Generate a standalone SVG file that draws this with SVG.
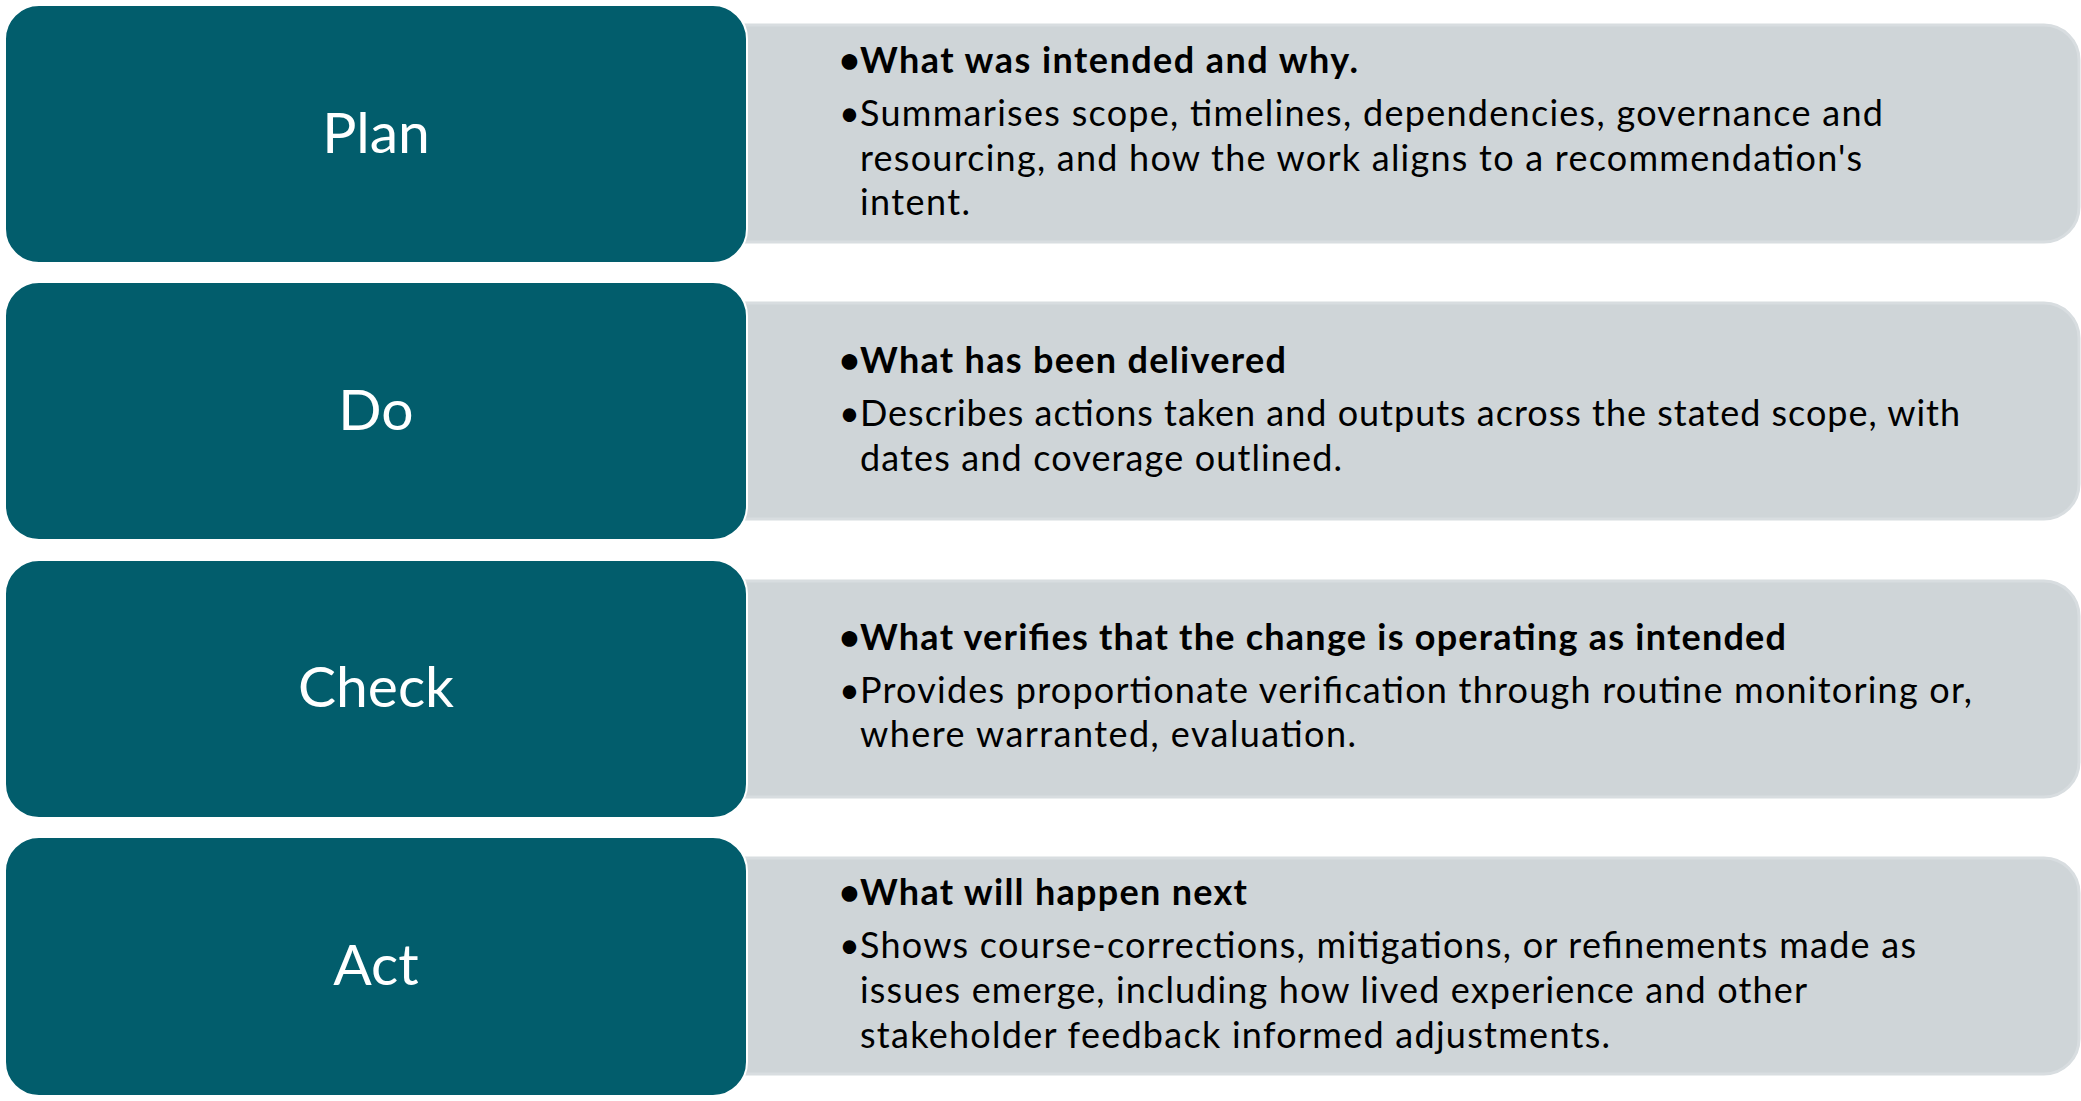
<svg xmlns="http://www.w3.org/2000/svg" width="2081" height="1101" viewBox="0 0 2081 1101">
<style>
.bg{fill:#CFD5D8;stroke:#D8DDE0;stroke-width:3}
.tl{fill:#025D6C;stroke:#FFFFFF;stroke-width:2}
.lb{font-family:Lato,"Liberation Sans",sans-serif;font-size:57px;fill:#FFFFFF;text-anchor:middle}
.tx{font-family:Lato,"Liberation Sans",sans-serif;font-size:36px;fill:#000000}
.b{font-weight:bold}
</style>
<rect width="2081" height="1101" fill="#FFFFFF"/>
<g id="plan">
<rect class="bg" x="700" y="25" width="1379" height="217" rx="35"/>
<rect class="tl" x="5" y="5" width="742" height="258" rx="34"/>
<text class="lb" x="376" y="153">Plan</text>
<text class="tx b" x="839" y="73">•</text>
<text class="tx b" x="860" y="73" textLength="498">What was intended and why.</text>
<text class="tx" x="839" y="126">•</text>
<text class="tx" x="860" y="126" textLength="1023">Summarises scope, timelines, dependencies, governance and</text>
<text class="tx" x="860" y="171" textLength="1002">resourcing, and how the work aligns to a recommendation's</text>
<text class="tx" x="860" y="215" textLength="110">intent.</text>
</g>
<g id="do">
<rect class="bg" x="700" y="303" width="1379" height="216" rx="35"/>
<rect class="tl" x="5" y="282" width="742" height="258" rx="34"/>
<text class="lb" x="376" y="430">Do</text>
<text class="tx b" x="839" y="373">•</text>
<text class="tx b" x="860" y="373" textLength="426">What has been delivered</text>
<text class="tx" x="839" y="426">•</text>
<text class="tx" x="860" y="426" textLength="1100">Describes actions taken and outputs across the stated scope, with</text>
<text class="tx" x="860" y="471" textLength="482">dates and coverage outlined.</text>
</g>
<g id="check">
<rect class="bg" x="700" y="581" width="1379" height="216" rx="35"/>
<rect class="tl" x="5" y="560" width="742" height="258" rx="34"/>
<text class="lb" x="376" y="707">Check</text>
<text class="tx b" x="839" y="650">•</text>
<text class="tx b" x="860" y="650" textLength="926">What verifies that the change is operating as intended</text>
<text class="tx" x="839" y="703">•</text>
<text class="tx" x="860" y="703" textLength="1112">Provides proportionate verification through routine monitoring or,</text>
<text class="tx" x="860" y="747" textLength="496">where warranted, evaluation.</text>
</g>
<g id="act">
<rect class="bg" x="700" y="858" width="1379" height="216" rx="35"/>
<rect class="tl" x="5" y="837" width="742" height="259" rx="34"/>
<text class="lb" x="376" y="985">Act</text>
<text class="tx b" x="839" y="905">•</text>
<text class="tx b" x="860" y="905" textLength="387">What will happen next</text>
<text class="tx" x="839" y="958">•</text>
<text class="tx" x="860" y="958" textLength="1056">Shows course-corrections, mitigations, or refinements made as</text>
<text class="tx" x="860" y="1003" textLength="947">issues emerge, including how lived experience and other</text>
<text class="tx" x="860" y="1048" textLength="750">stakeholder feedback informed adjustments.</text>
</g>
<g id="connectors"/>
</svg>
